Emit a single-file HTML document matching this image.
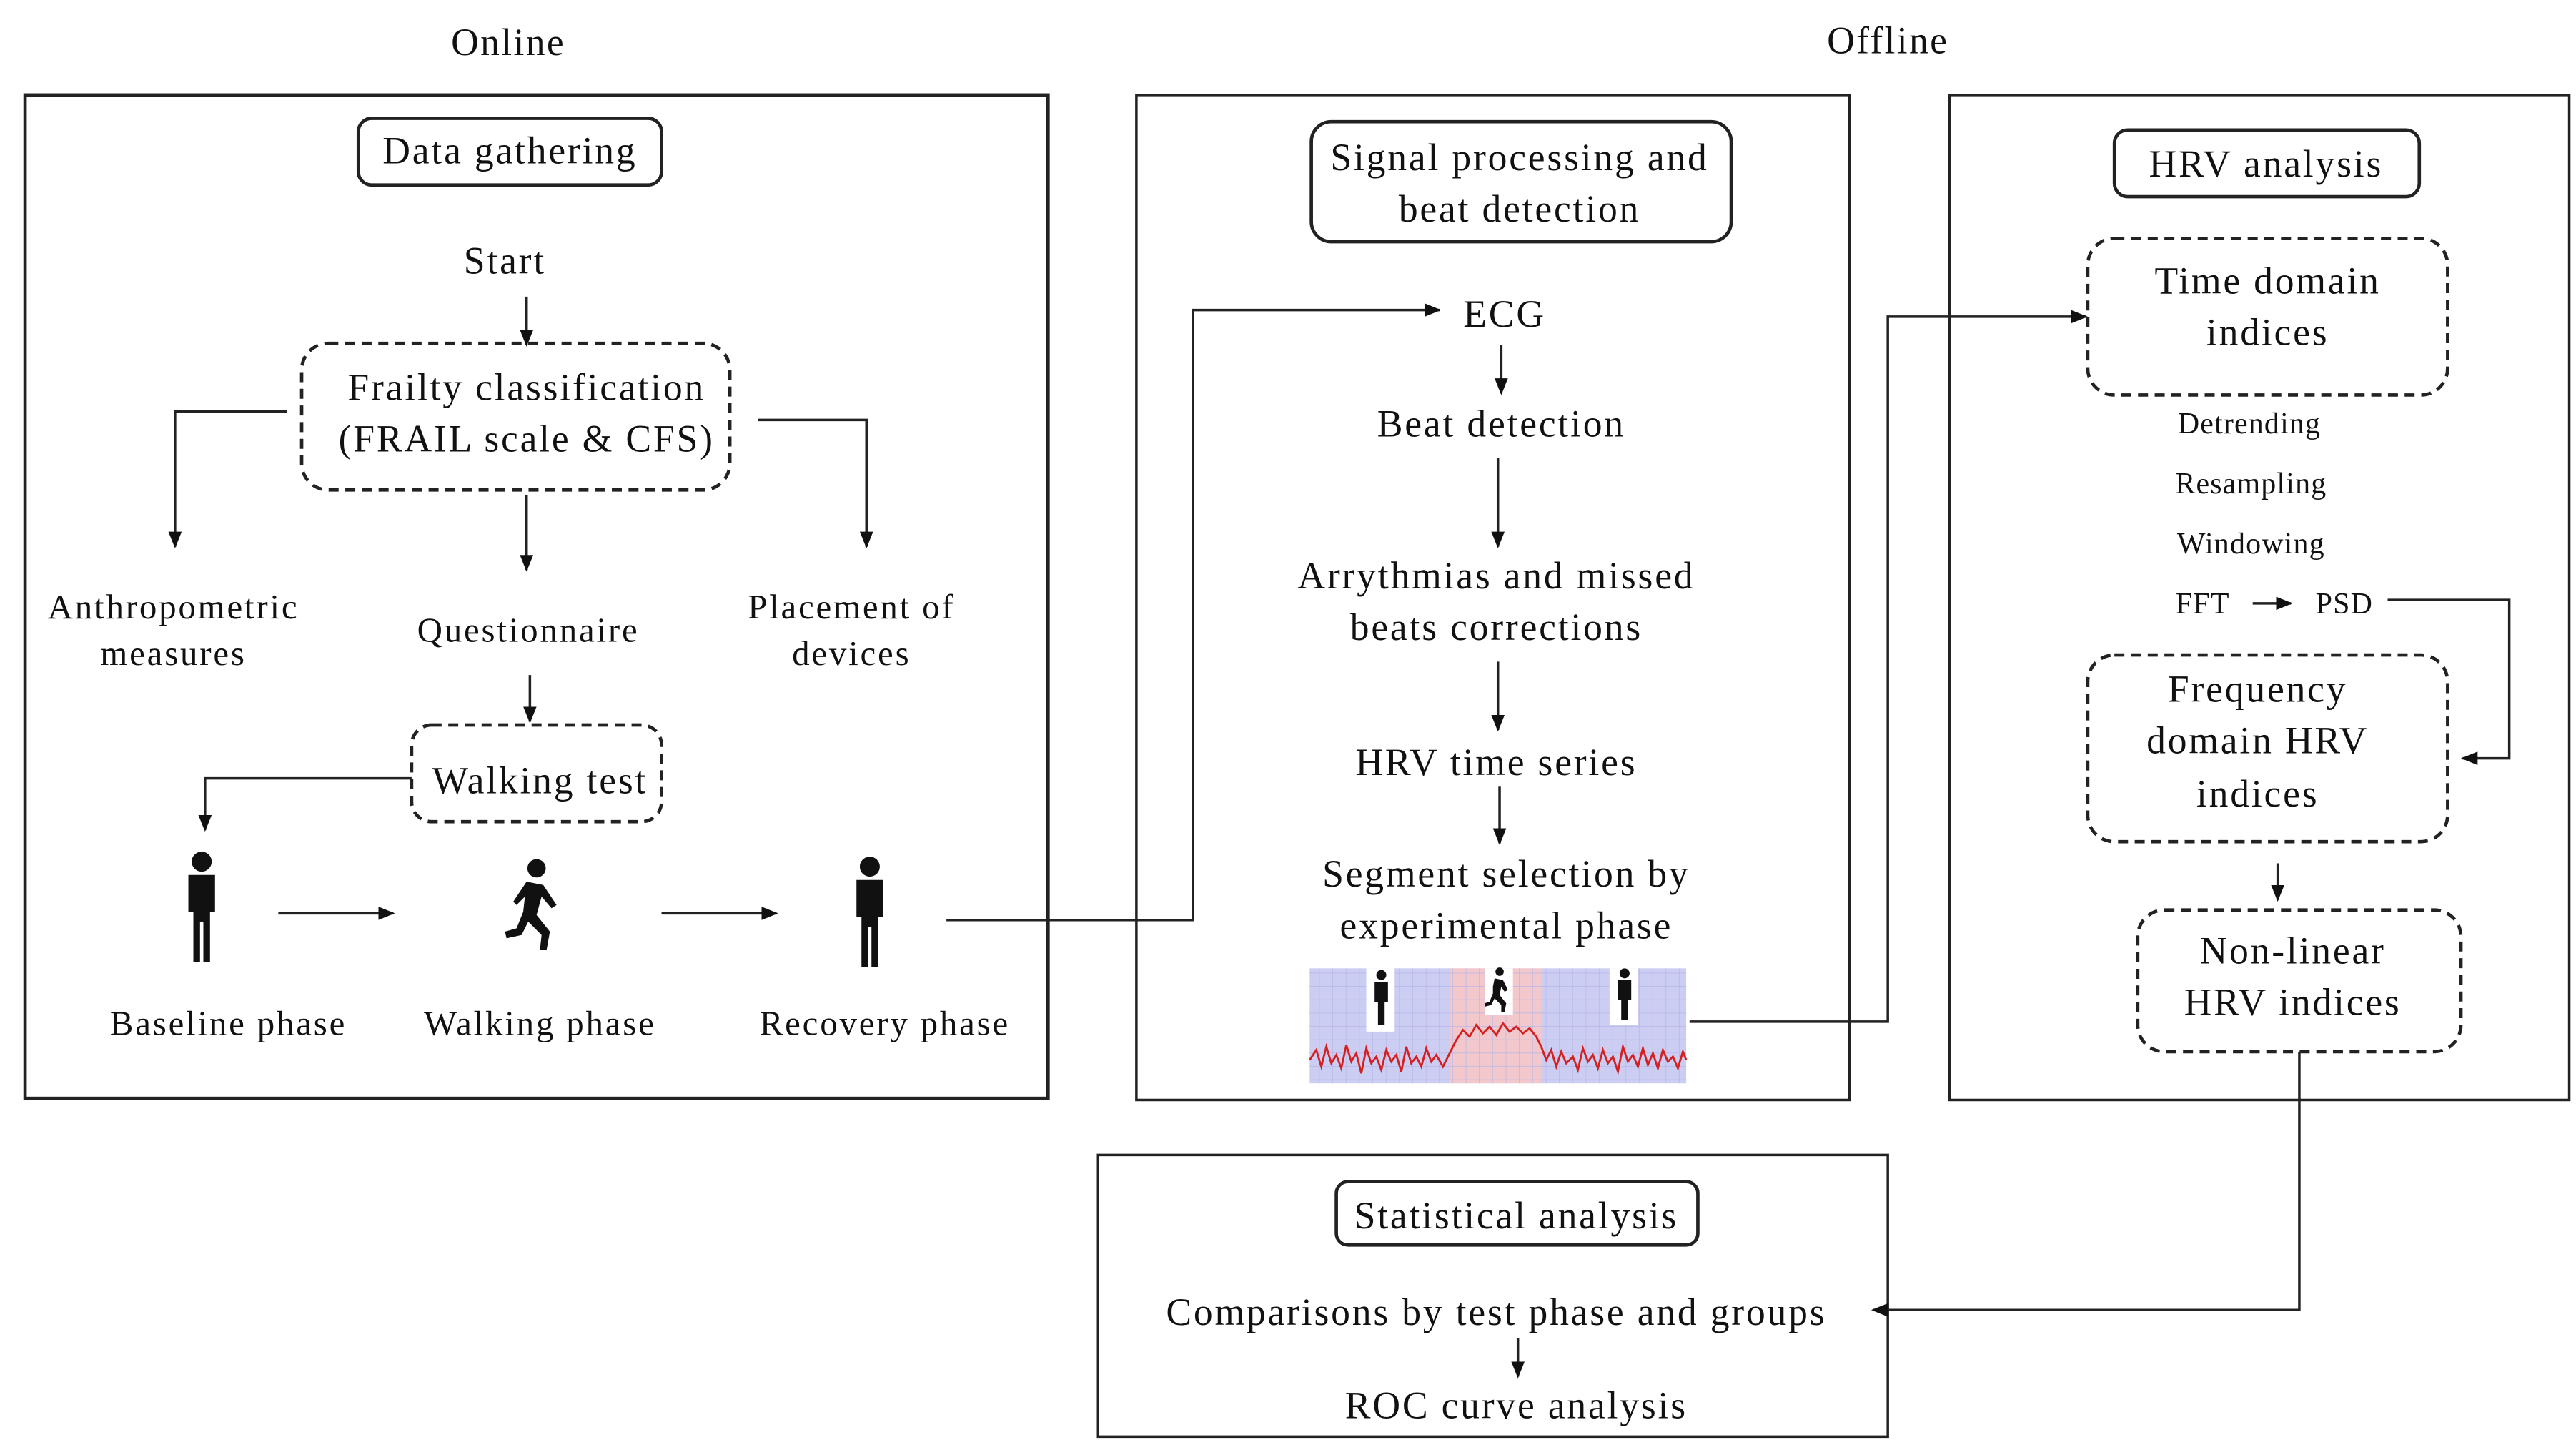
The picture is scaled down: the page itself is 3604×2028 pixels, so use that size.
<!DOCTYPE html>
<html><head><meta charset="utf-8"><style>
html,body{margin:0;padding:0;background:#fff;}
svg{display:block;}
text{font-family:"Liberation Serif",serif;fill:#111;}
</style></head><body>
<svg width="3604" height="2028" viewBox="0 0 1546 870" xmlns="http://www.w3.org/2000/svg">
<defs>
<marker id="a" markerWidth="10" markerHeight="10" refX="9" refY="5" orient="auto" markerUnits="userSpaceOnUse">
<path d="M0,1 L10,5 L0,9 Z" fill="#111"/></marker>
<pattern id="g" width="8" height="8" patternUnits="userSpaceOnUse"><path d="M8,0 V8 M0,8 H8" stroke="#b6b6e8" stroke-width="0.6" fill="none"/></pattern>
</defs>
<rect width="1546" height="870" fill="#fff"/>
<g font-size="23" text-anchor="middle" letter-spacing="1">
<text x="305" y="33">Online</text>
<text x="1133" y="32">Offline</text>
</g>
<g fill="none" stroke="#222" stroke-width="2">
<rect x="15" y="57" width="614" height="602"/>
<rect x="682" y="57" width="428" height="603" stroke-width="1.5"/>
<rect x="1170" y="57" width="372" height="603" stroke-width="1.5"/>
<rect x="659" y="693" width="474" height="169" stroke-width="1.5"/>
<rect x="215" y="71" width="182" height="40" rx="8"/>
<rect x="787" y="73" width="252" height="72" rx="12"/>
<rect x="1269" y="78" width="183" height="40" rx="8"/>
<rect x="802" y="709" width="217" height="38" rx="7"/>
</g>
<g fill="none" stroke="#222" stroke-width="2" stroke-dasharray="6,4">
<rect x="181" y="206" width="257" height="88" rx="16"/>
<rect x="247" y="435" width="150" height="58" rx="12"/>
<rect x="1253" y="143" width="216" height="94" rx="16"/>
<rect x="1253" y="393" width="216" height="112" rx="16"/>
<rect x="1283" y="546" width="194" height="85" rx="16"/>
</g>
<g fill="none" stroke="#222" stroke-width="1.5" marker-end="url(#a)">
<path d="M316,178 V207"/>
<path d="M172,247 H105 V328"/>
<path d="M455,252 H520 V328"/>
<path d="M316,297 V342"/>
<path d="M318,405 V433"/>
<path d="M247,467 H123 V498"/>
<path d="M167,548 H236"/>
<path d="M397,548 H466"/>
<path d="M568,552 H716 V186 H864"/>
<path d="M901,207 V236"/>
<path d="M899,275 V328"/>
<path d="M899,397 V438"/>
<path d="M900,472 V506"/>
<path d="M1014,613 H1133 V190 H1252"/>
<path d="M1352,362 H1375"/>
<path d="M1433,360 H1506 V455 H1478"/>
<path d="M1367,518 V540"/>
<path d="M1380,631 V786 H1124"/>
<path d="M911,803 V826"/>
</g>
<g font-size="23" text-anchor="middle" letter-spacing="1.2">
<text x="306" y="98">Data gathering</text>
<text x="303" y="164">Start</text>
<text x="316" y="240">Frailty classification</text>
<text x="316" y="271">(FRAIL scale &amp; CFS)</text>
<text x="104" y="371" font-size="21">Anthropometric</text>
<text x="104" y="399" font-size="21">measures</text>
<text x="317" y="385" font-size="21">Questionnaire</text>
<text x="511" y="371" font-size="21">Placement of</text>
<text x="511" y="399" font-size="21">devices</text>
<text x="324" y="476">Walking test</text>
<text x="137" y="621" font-size="21">Baseline phase</text>
<text x="324" y="621" font-size="21">Walking phase</text>
<text x="531" y="621" font-size="21">Recovery phase</text>
<text x="912" y="102">Signal processing and</text>
<text x="912" y="133">beat detection</text>
<text x="903" y="196">ECG</text>
<text x="901" y="262">Beat detection</text>
<text x="898" y="353">Arrythmias and missed</text>
<text x="898" y="384">beats corrections</text>
<text x="898" y="465">HRV time series</text>
<text x="904" y="532">Segment selection by</text>
<text x="904" y="563">experimental phase</text>
<text x="1360" y="106">HRV analysis</text>
<text x="1361" y="176">Time domain</text>
<text x="1361" y="207">indices</text>
<text x="1355" y="421">Frequency</text>
<text x="1355" y="452">domain HRV</text>
<text x="1355" y="484">indices</text>
<text x="1376" y="578">Non-linear</text>
<text x="1376" y="609">HRV indices</text>
<text x="910" y="737">Statistical analysis</text>
<text x="898" y="795">Comparisons by test phase and groups</text>
<text x="910" y="851">ROC curve analysis</text>
</g>
<g font-size="18" text-anchor="middle" letter-spacing="0.5">
<text x="1350" y="260">Detrending</text>
<text x="1351" y="296">Resampling</text>
<text x="1351" y="332">Windowing</text>
<text x="1322" y="368">FFT</text>
<text x="1407" y="368">PSD</text>
</g>
<g fill="#111">
<circle cx="121" cy="517" r="6"/>
<path d="M113,525 h16 v22 h-3 v30 h-4 v-24 h-2 v24 h-4 v-30 h-3 z"/>
<circle cx="522" cy="520" r="6"/>
<path d="M514,528 h16 v22 h-3 v30 h-4 v-24 h-2 v24 h-4 v-30 h-3 z"/>
<circle cx="322" cy="521" r="5.5"/>
<path d="M316,529 l10,2 l8,12 l-3,2 l-6,-7 l-3,11 l8,10 l-2,11 l-4,0 l1,-9 l-8,-8 l-4,8 l-9,2 l-1,-4 l7,-2 l4,-10 l1,-9 l-5,5 l-2,-2 z"/>
</g>
<rect x="786" y="581" width="226" height="69" fill="#cccdf2"/>
<rect x="870" y="581" width="55" height="69" fill="#f2c8cc"/>
<rect x="786" y="581" width="226" height="69" fill="url(#g)"/>
<rect x="820" y="581" width="17" height="38" fill="#fff"/>
<rect x="891" y="581" width="17" height="28" fill="#fff"/>
<rect x="966" y="581" width="17" height="34" fill="#fff"/>
<g fill="#111">
<circle cx="829" cy="585" r="3"/><path d="M825,589 h8 v12 h-2 v14 h-2 v-11 h0 v11 h-2 v-14 h-2 z"/>
<circle cx="900" cy="583" r="2.5"/><path d="M897,587 l5,1 l3,6 l-2,1 l-2,-3 l-1,5 l4,5 l-1,5 l-2,0 l0,-4 l-4,-4 l-2,4 l-4,1 l0,-2 l3,-1 l2,-5 l0,-4 z"/>
<circle cx="975" cy="584" r="3"/><path d="M971,588 h8 v12 h-2 v12 h-2 v-10 v10 h-2 v-12 h-2 z"/>
</g>
<polyline fill="none" stroke="#d42020" stroke-width="1.2" points="786,636 790,630 793,640 796,628 799,638 802,633 805,641 808,627 811,637 814,632 817,644 820,629 823,638 826,634 829,642 832,630 835,637 838,633 841,643 844,628 847,638 850,634 853,640 856,629 859,637 862,633 866,640 870,632 874,624 878,618 882,622 886,615 890,620 894,616 898,621 902,614 906,619 910,616 914,620 918,617 922,622 925,628 928,636 931,630 934,640 937,631 940,638 944,634 947,642 950,629 953,637 956,633 959,641 962,630 965,638 968,634 971,643 974,628 977,637 980,633 983,640 986,629 989,639 992,632 995,641 998,630 1001,637 1004,634 1007,641 1010,631 1012,636"/>
</svg>
</body></html>
